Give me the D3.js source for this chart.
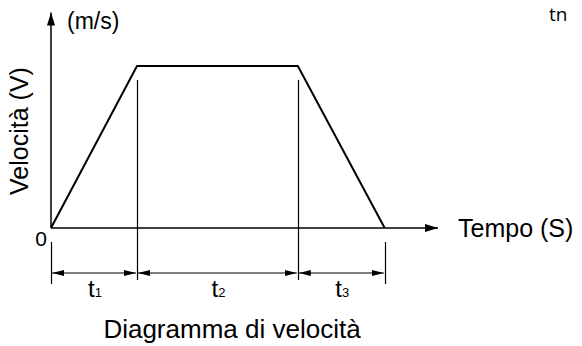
<!DOCTYPE html>
<meta charset="utf-8">
<style>
    body { margin: 0; background: #fff; }
    text { font-family: "Liberation Sans", Arial, sans-serif; fill: #000; }
</style>
<body>
<div id="chart"></div>
<script src="https://d3js.org/d3.v7.min.js"></script>
<script>
    // phase boundaries (time units) and speed at each boundary
    var times = [0, 1, 2.87, 3.88];
    var speeds = [0, 1, 1, 0];
    var phases = ["1", "2", "3"];
    var xMax = 4.5, yMax = 1.33;

    var width = 582, height = 346;

    var x = d3.scaleLinear().domain([0, xMax]).range([51, 438]);
    var y = d3.scaleLinear().domain([0, 1]).range([228, 66]);

    var svg = d3.select("#chart").append("svg")
        .attr("width", width)
        .attr("height", height);

    var defs = svg.append("defs");
    defs.append("marker")
        .attr("id", "axisArrow")
        .attr("viewBox", "0 0 13 8")
        .attr("refX", 13).attr("refY", 4)
        .attr("markerWidth", 13).attr("markerHeight", 8)
        .attr("markerUnits", "userSpaceOnUse")
        .attr("orient", "auto")
        .append("path").attr("d", "M0,0L13,4L0,8Z").attr("fill", "#000");
    defs.append("marker")
        .attr("id", "dimArrow")
        .attr("viewBox", "0 0 12 6")
        .attr("refX", 12).attr("refY", 3)
        .attr("markerWidth", 12).attr("markerHeight", 6)
        .attr("markerUnits", "userSpaceOnUse")
        .attr("orient", "auto-start-reverse")
        .append("path").attr("d", "M0,0L12,3L0,6Z").attr("fill", "#000");

    // axes
    svg.append("line")
        .attr("x1", x(0)).attr("y1", y(0))
        .attr("x2", x(0)).attr("y2", y(yMax))
        .attr("stroke", "#000").attr("stroke-width", 1.5)
        .attr("marker-end", "url(#axisArrow)");
    svg.append("line")
        .attr("x1", x(0)).attr("y1", y(0))
        .attr("x2", x(xMax)).attr("y2", y(0))
        .attr("stroke", "#000").attr("stroke-width", 1.5)
        .attr("marker-end", "url(#axisArrow)");

    // velocity profile
    var line = d3.line()
        .x(function(d, i) { return x(times[i]); })
        .y(function(d) { return y(d); });
    svg.append("path")
        .datum(speeds)
        .attr("d", line)
        .attr("fill", "none")
        .attr("stroke", "#000")
        .attr("stroke-width", 2);

    // guide lines at phase boundaries
    svg.selectAll(".guide")
        .data(times)
        .enter().append("line")
        .attr("class", "guide")
        .attr("x1", function(d) { return Math.round(x(d)) + 0.5; })
        .attr("x2", function(d) { return Math.round(x(d)) + 0.5; })
        .attr("y1", function(d, i) { return speeds[i] > 0 ? 80 : 242; })
        .attr("y2", function(d, i) { return speeds[i] > 0 ? 280 : 284; })
        .attr("stroke", "#000").attr("stroke-width", 1.2);

    // dimension arrows
    svg.selectAll(".dim")
        .data(phases)
        .enter().append("line")
        .attr("class", "dim")
        .attr("x1", function(d, i) { return x(times[i]) + 1; })
        .attr("x2", function(d, i) { return x(times[i + 1]) - 1; })
        .attr("y1", 273).attr("y2", 273)
        .attr("stroke", "#000").attr("stroke-width", 1.2)
        .attr("marker-start", "url(#dimArrow)")
        .attr("marker-end", "url(#dimArrow)");

    var lab = svg.selectAll(".phase")
        .data(phases)
        .enter().append("text")
        .attr("class", "phase")
        .attr("x", function(d, i) { return (x(times[i]) + x(times[i + 1])) / 2 + 1; })
        .attr("y", 297)
        .attr("text-anchor", "middle")
        .style("font-size", "24px");
    lab.append("tspan").text("t");
    lab.append("tspan").style("font-size", "13px").text(function(d) { return d; });

    svg.append("text")
        .attr("x", x(0) - 10).attr("y", 246)
        .attr("text-anchor", "middle")
        .style("font-size", "21px")
        .text("0");

    svg.append("text")
        .attr("x", 67).attr("y", 29)
        .style("font-size", "23px")
        .text("(m/s)");

    svg.append("text")
        .attr("transform", "translate(28,131) rotate(-90)")
        .attr("text-anchor", "middle")
        .style("font-size", "25px")
        .text("Velocità (V)");

    svg.append("text")
        .attr("x", 458).attr("y", 237)
        .style("font-size", "25px")
        .text("Tempo (S)");

    svg.append("text")
        .attr("x", 232).attr("y", 338)
        .attr("text-anchor", "middle")
        .style("font-size", "26px")
        .text("Diagramma di velocità");

    svg.append("text")
        .attr("x", 549).attr("y", 21)
        .style("font-family", "'Open Sans', sans-serif")
        .style("font-size", "19px")
        .text("tn");
</script>
</body>
